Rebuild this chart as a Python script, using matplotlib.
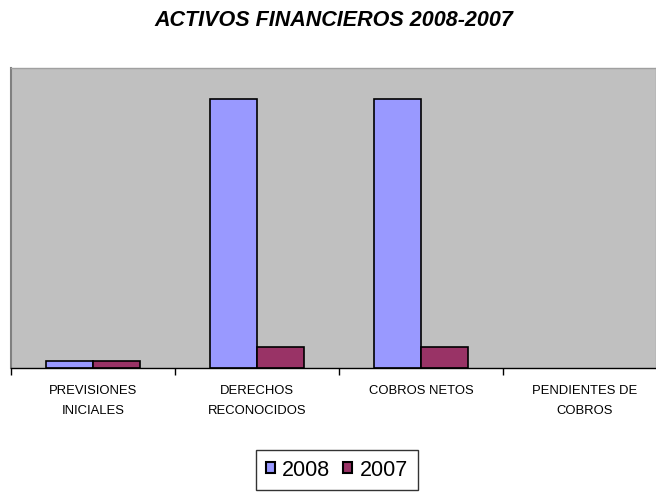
import matplotlib
matplotlib.use("Agg")
import matplotlib.pyplot as plt
import numpy as np

plt.rcParams['font.family'] = ['Liberation Sans', 'DejaVu Sans']

categories = ["PREVISIONES\nINICIALES", "DERECHOS\nRECONOCIDOS", "COBROS NETOS", "PENDIENTES DE\nCOBROS"]
series_names = ["2008", "2007"]
values_2008 = [0.7, 26.9, 26.9, 0.0]
values_2007 = [0.7, 2.1, 2.1, 0.0]
colors = ["#9999FF", "#993366"]

fig = plt.figure(figsize=(6.56, 4.92), dpi=100)
W, H = 656, 492
ax = fig.add_axes([11 / W, 1 - 368 / H, (656 - 11) / W, 300 / H])
ax.set_facecolor("#C0C0C0")

x = np.arange(len(categories))
w = 0.287
lw08 = [1.2 if v > 0 else 0 for v in values_2008]
lw07 = [1.2 if v > 0 else 0 for v in values_2007]
b1 = ax.bar(x - w / 2, values_2008, w, color=colors[0], edgecolor="black", linewidth=lw08, label=series_names[0])
b2 = ax.bar(x + w / 2, values_2007, w, color=colors[1], edgecolor="black", linewidth=lw07, label=series_names[1])

ax.set_yticks([])
ax.set_xticks(np.arange(len(categories)) - 0.5)
ax.set_xticklabels([])
ax.set_xticks(x, minor=True)
ax.set_xticklabels(categories, minor=True, fontsize=9.4, linespacing=1.95)
ax.tick_params(axis="x", which="major", direction="out", length=5, width=1, color="black")
ax.tick_params(axis="x", which="minor", length=0, pad=12)
ax.set_xlim(-0.5, -0.5 + (656 - 11) / 164)
ax.set_ylim(0, 30)

for s in ["top", "right"]:
    ax.spines[s].set_color("#A0A0A0")
    ax.spines[s].set_linewidth(1)
ax.spines["left"].set_color("#808080")
ax.spines["left"].set_linewidth(1.5)
ax.spines["bottom"].set_color("black")
ax.spines["bottom"].set_linewidth(1)

fig.text(334 / W, 1 - 20 / H, "ACTIVOS FINANCIEROS 2008-2007", ha="center", va="center",
         fontsize=15.5, fontweight="bold", fontstyle="italic")

from matplotlib.patches import Patch
handles = [Patch(facecolor=colors[0], edgecolor="black", linewidth=1.5),
           Patch(facecolor=colors[1], edgecolor="black", linewidth=1.5)]
leg = fig.legend(handles, series_names, loc="center", bbox_to_anchor=(337 / W, 1 - 470 / H), ncol=2,
                 fontsize=15.5, frameon=True, fancybox=False, edgecolor="black",
                 handlelength=0.42, handleheight=0.42, handletextpad=0.35, columnspacing=0.6,
                 borderpad=0.45, borderaxespad=0)
leg.get_frame().set_linewidth(1)

fig.savefig("out.png", dpi=100)
